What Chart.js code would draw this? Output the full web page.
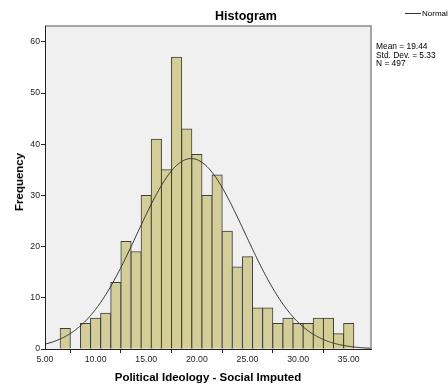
<!DOCTYPE html>
<html>
<head>
<meta charset="utf-8">
<script src="https://cdn.jsdelivr.net/npm/chart.js@4/dist/chart.umd.min.js"></script>
<style>
  html, body { margin: 0; padding: 0; background: #fff; }
  #wrap { position: relative; width: 448px; height: 385px; font-family: "Liberation Sans", Arial, sans-serif; color: #000; }
  #c { position: absolute; left: 0; top: 0; }
  .lbl { position: absolute; white-space: nowrap; }
  #title { left: 246px; top: 16px; transform: translate(-50%, -50%); font-weight: bold; font-size: 12.5px; }
  #ytitle { left: 19px; top: 182px; transform: translate(-50%, -50%) rotate(-90deg); font-weight: bold; font-size: 11.5px; }
  #legend { left: 405px; top: 9px; font-size: 8px; line-height: 10px; }
  #legend .sw { display: inline-block; width: 16px; height: 0; border-top: 1px solid #333; vertical-align: middle; margin-right: 1px; }
  #stats { left: 376px; top: 42px; font-size: 8.4px; line-height: 8.5px; }
</style>
</head>
<body>
<div id="wrap">
  <canvas id="c" width="448" height="385"></canvas>
  <div class="lbl" id="title">Histogram</div>
  <div class="lbl" id="ytitle">Frequency</div>
  <div class="lbl" id="legend"><span class="sw"></span><span>Normal</span></div>
  <div class="lbl" id="stats"></div>
</div>
<script>
// Political ideology (social, imputed) score bins and their counts
const binCenters = [7, 8, 9, 10, 11, 12, 13, 14, 15, 16, 17, 18, 19, 20, 21,
                    22, 23, 24, 25, 26, 27, 28, 29, 30, 31, 32, 33, 34, 35];
const frequencies = [4, 0, 5, 6, 7, 13, 21, 19, 30, 41, 35, 57, 43, 38, 30,
                     34, 23, 16, 18, 8, 8, 5, 6, 5, 5, 6, 6, 3, 5];

// Fitted normal summary
const fitMean = 19.44;
const fitStdDev = 5.33;
const fitN = 497;
const binWidth = 1;

// Axis ticks
const xTickValues = [5, 10, 15, 20, 25, 30, 35];
const yTickValues = [0, 10, 20, 30, 40, 50, 60];
const xRange = [5, 37.2];
const yRange = [0, 63.1];

document.getElementById('stats').innerHTML =
  'Mean = ' + fitMean.toFixed(2) + '<br>Std. Dev. = ' + fitStdDev.toFixed(2) + '<br>N = ' + fitN;

// Normal density scaled to counts per bin
function normalCount(x) {
  const z = (x - fitMean) / fitStdDev;
  return fitN * binWidth / (fitStdDev * Math.sqrt(2 * Math.PI)) * Math.exp(-0.5 * z * z);
}
const curvePoints = [];
for (let x = xRange[0]; x <= xRange[1] + 1e-9; x += 0.1) {
  curvePoints.push({ x: x, y: normalCount(x) });
}

const histBars = binCenters.map((c, i) => ({ x: c, y: frequencies[i] }));

const plotFrame = {
  id: 'plotFrame',
  beforeDraw(chart) {
    const { ctx, chartArea: a } = chart;
    ctx.save();
    ctx.fillStyle = '#ffffff';
    ctx.fillRect(0, 0, chart.width, chart.height);
    ctx.fillStyle = '#f0f0f0';
    ctx.fillRect(a.left, a.top, a.right - a.left, a.bottom - a.top);
    ctx.restore();
  },
  afterDatasetsDraw(chart) {
    const { ctx, chartArea: a } = chart;
    ctx.save();
    ctx.strokeStyle = '#8a8a8a';
    ctx.lineWidth = 1.5;
    ctx.beginPath();
    ctx.moveTo(a.left, a.top);
    ctx.lineTo(a.right, a.top);
    ctx.lineTo(a.right, a.bottom);
    ctx.stroke();
    ctx.restore();
  }
};

new Chart(document.getElementById('c'), {
  type: 'bar',
  data: {
    datasets: [
      {
        type: 'line',
        label: 'Normal',
        data: curvePoints,
        borderColor: '#333333',
        borderWidth: 1,
        pointRadius: 0,
        fill: false,
        tension: 0,
        order: 0
      },
      {
        type: 'bar',
        label: 'Frequency',
        data: histBars,
        backgroundColor: '#d3ce97',
        borderColor: '#3d3d3d',
        borderWidth: 1,
        inflateAmount: 0.5,
        barPercentage: 1,
        categoryPercentage: 1,
        order: 1
      }
    ]
  },
  options: {
    responsive: false,
    animation: false,
    devicePixelRatio: 1,
    layout: { padding: { top: 26, right: 77, bottom: 0, left: 0 } },
    plugins: {
      legend: { display: false },
      title: { display: false },
      tooltip: { enabled: false }
    },
    scales: {
      x: {
        type: 'linear',
        offset: false,
        min: xRange[0],
        max: xRange[1],
        afterFit(scale) { scale.height = 36; },
        afterBuildTicks(scale) { scale.ticks = xTickValues.map(v => ({ value: v })); },
        ticks: {
          callback: v => Number(v).toFixed(2),
          font: { family: '"Liberation Sans", Arial, sans-serif', size: 8.7 },
          color: '#222',
          padding: 1,
          maxRotation: 0,
          autoSkip: false
        },
        grid: { display: true, drawOnChartArea: false, drawTicks: true, tickLength: 4, color: '#222' },
        border: { display: true, color: '#222', width: 1, z: 1 },
        title: {
          display: true,
          text: 'Political Ideology - Social Imputed',
          font: { family: '"Liberation Sans", Arial, sans-serif', size: 11.5, weight: 'bold' },
          color: '#000',
          padding: { top: 0, bottom: 0 }
        }
      },
      y: {
        type: 'linear',
        min: yRange[0],
        max: yRange[1],
        afterFit(scale) { scale.width = 45; },
        afterBuildTicks(scale) { scale.ticks = yTickValues.map(v => ({ value: v })); },
        ticks: {
          font: { family: '"Liberation Sans", Arial, sans-serif', size: 8.7 },
          color: '#222',
          padding: 1
        },
        grid: { display: true, drawOnChartArea: false, drawTicks: true, tickLength: 4, color: '#222' },
        border: { display: true, color: '#222', width: 1, z: 1 }
      }
    }
  },
  plugins: [plotFrame]
});
</script>
</body>
</html>
